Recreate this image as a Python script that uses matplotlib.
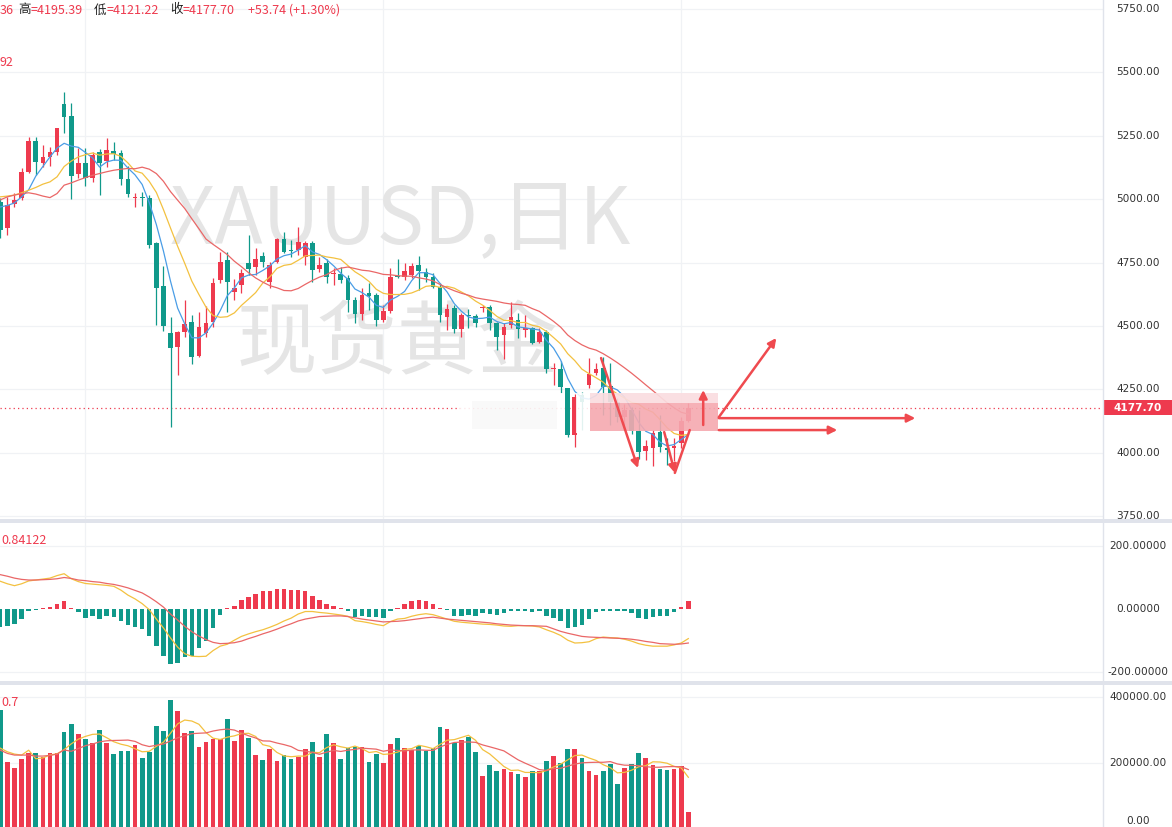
import matplotlib
matplotlib.use("Agg")
import matplotlib.pyplot as plt
import matplotlib.transforms as mtrans
from matplotlib.patches import Rectangle
import numpy as np
import pandas as pd

plt.rcParams["font.family"] = ["DejaVu Sans", "Noto Sans CJK SC"]

# ---- values: XAUUSD daily, 98 sessions ----
opens = [4988, 4885, 4980, 5004, 5106, 5229, 5142, 5166, 5185, 5375,
         5328, 5099, 5142, 5083, 5185, 5150, 5189, 5182, 5079, 5004,
         5008, 5004, 4826, 4656, 4471, 4416, 4475, 4514, 4380, 4471,
         4514, 4680, 4759, 4633, 4660, 4747, 4731, 4775, 4672, 4751,
         4842, 4798, 4798, 4771, 4826, 4723, 4747, 4704, 4704, 4688,
         4601, 4546, 4629, 4621, 4522, 4558, 4696, 4692, 4700, 4739,
         4711, 4692, 4652, 4534, 4570, 4487, 4542, 4538, 4569, 4573,
         4510, 4463, 4503, 4522, 4483, 4491, 4435, 4475, 4329, 4329,
         4254, 4070, 4226, 4266, 4313, 4333, 4262, 4200, 4140, 4170,
         4085, 4005, 4017, 4080, 4017, 4017, 4036, 4124.36]
highs = [5004, 5008, 5024, 5122, 5245, 5245, 5213, 5205, 5280, 5422,
         5379, 5201, 5201, 5185, 5197, 5241, 5225, 5193, 5130, 5024,
         5028, 5016, 4830, 4735, 4534, 4480, 4601, 4542, 4554, 4577,
         4688, 4790, 4790, 4684, 4723, 4858, 4806, 4790, 4751, 4846,
         4870, 4838, 4889, 4834, 4834, 4771, 4763, 4727, 4731, 4700,
         4613, 4649, 4668, 4629, 4581, 4727, 4763, 4747, 4747, 4775,
         4727, 4708, 4668, 4585, 4581, 4550, 4566, 4546, 4581, 4581,
         4514, 4510, 4593, 4550, 4542, 4495, 4491, 4483, 4352, 4360,
         4254, 4230, 4240, 4372, 4352, 4376, 4352, 4215, 4190, 4180,
         4170, 4048, 4090, 4150, 4056, 4056, 4140, 4195.39]
lows = [4846, 4858, 4968, 4996, 5102, 5095, 5126, 5130, 5174, 5260,
        4999, 5083, 5051, 5067, 5016, 5126, 5154, 5055, 5008, 4968,
        4972, 4806, 4502, 4479, 4100, 4305, 4455, 4348, 4376, 4455,
        4494, 4668, 4553, 4601, 4629, 4700, 4700, 4731, 4648, 4747,
        4786, 4771, 4779, 4739, 4672, 4711, 4668, 4660, 4668, 4553,
        4510, 4522, 4562, 4499, 4514, 4550, 4688, 4680, 4688, 4641,
        4672, 4648, 4514, 4483, 4471, 4455, 4491, 4495, 4554, 4483,
        4404, 4368, 4491, 4451, 4455, 4428, 4432, 4313, 4266, 4234,
        4060, 4021, 4088, 4254, 4305, 4150, 4110, 4120, 4110, 4075,
        3975, 3969, 3946, 4001, 3950, 3965, 4020, 4121.22]
closes = [4878, 4976, 4996, 5106, 5229, 5146, 5166, 5185, 5280, 5324,
          5091, 5142, 5083, 5174, 5142, 5193, 5178, 5079, 5020, 5008,
          5004, 4818, 4648, 4498, 4412, 4475, 4506, 4376, 4494, 4510,
          4668, 4751, 4672, 4648, 4708, 4723, 4763, 4751, 4739, 4842,
          4790, 4794, 4830, 4826, 4719, 4739, 4692, 4708, 4680, 4601,
          4546, 4621, 4617, 4522, 4558, 4692, 4692, 4715, 4735, 4715,
          4692, 4652, 4542, 4566, 4487, 4542, 4538, 4510, 4573, 4510,
          4455, 4494, 4534, 4487, 4491, 4432, 4475, 4329, 4333, 4258,
          4068, 4220, 4200, 4309, 4329, 4258, 4200, 4140, 4170, 4085,
          4001, 4025, 4076, 4021, 4009, 4028, 4123.96, 4177.70]
volumes_k = [361, 204, 186, 212, 231, 231, 217, 231, 229, 295,
             318, 288, 273, 260, 300, 262, 227, 236, 236, 255,
             216, 234, 312, 298, 391, 358, 292, 297, 249, 265,
             273, 272, 333, 268, 300, 277, 224, 209, 243, 207,
             224, 212, 219, 242, 265, 219, 288, 262, 212, 245,
             249, 249, 204, 227, 201, 258, 275, 245, 239, 251,
             237, 245, 310, 302, 260, 270, 278, 234, 161, 194,
             177, 181, 174, 167, 158, 177, 177, 207, 221, 201,
             242, 242, 214, 177, 164, 177, 197, 136, 184, 197,
             229, 214, 194, 181, 179, 181, 191, 52]
dif = [88, 80, 74, 80, 89, 92, 95, 98, 106, 112,
       96, 87, 81, 79, 77, 75, 72, 60, 44, 32,
       17, -2, -32, -60, -92, -121, -142, -150, -151, -150,
       -132, -118, -112, -99, -87, -79, -72, -66, -58, -49,
       -38, -29, -16, -8, -8, -11, -13, -16, -19, -23,
       -37, -40, -44, -49, -53, -40, -32, -30, -23, -18,
       -15, -18, -25, -32, -39, -42, -44, -46, -48, -49,
       -51, -54, -55, -53, -53, -54, -57, -66, -74, -84,
       -99, -108, -107, -104, -94, -89, -91, -92, -96, -102,
       -110, -115, -118, -118, -118, -114, -108, -94]
dea = [109, 104, 98, 94, 92, 92, 93, 94, 96, 100,
       97, 92, 90, 87, 85, 81, 78, 73, 67, 59,
       51, 38, 23, 6, -16, -35, -55, -72, -86, -97,
       -106, -110, -109, -107, -102, -94, -87, -79, -72, -64,
       -55, -47, -38, -32, -28, -24, -23, -22, -22, -24,
       -28, -32, -35, -38, -41, -40, -39, -37, -34, -31,
       -28, -26, -29, -32, -34, -36, -38, -40, -42, -44,
       -47, -49, -51, -52, -53, -53, -54, -55, -63, -71,
       -77, -82, -87, -89, -90, -91, -92, -93, -94, -96,
       -99, -103, -106, -110, -111, -112, -111, -108]
macd_hist = [-57, -55, -47, -32, -5, -3, 1, 6, 16, 24,
             1, -11, -29, -21, -32, -23, -27, -37, -51, -58,
             -63, -87, -116, -148, -175, -171, -153, -148, -125, -101,
             -60, -18, 1, 11, 28, 37, 49, 56, 56, 65,
             65, 61, 61, 58, 40, 30, 17, 8, 1, -5,
             -24, -23, -24, -26, -29, -5, 1, 16, 26, 30,
             25, 17, 1, -3, -21, -21, -18, -21, -14, -15,
             -18, -14, -5, -5, -5, -8, -7, -21, -29, -37,
             -61, -58, -51, -31, -10, -7, -7, -7, -7, -14,
             -29, -32, -24, -21, -21, -11, 6, 24]

# moving-average values at the left edge, before a full window is on screen
ma5_head = [4969, 4975, 4985, 5009]
ma10_head = [5009, 5012, 5016, 5025, 5035, 5046, 5059, 5068, 5088]
ma20_head = [4997, 5009, 5016, 5022, 5025, 5020, 5012, 5006, 5022, 5055,
             5064, 5075, 5085, 5094, 5101, 5108, 5114, 5118, 5121]
vma5_head = [245, 234, 227, 224]
vma10_head = [239, 229, 224, 224, 224, 221, 221, 223, 227]

price_ticks = [5750, 5500, 5250, 5000, 4750, 4500, 4250, 4000, 3750]
macd_ticks = [200, 0, -200]
vol_ticks = [400000, 200000, 0]
vgrid_idx = [12, 54, 96]
last_close = 4177.70

# hand-drawn red arrows (session index, price)
arrows = [(84.7, 4373, 89.9, 3939),
          (93.6, 4081, 95.1, 3920),
          (99.1, 4109, 99.1, 4247),
          (101.3, 4140, 109.4, 4452),
          (101.3, 4136, 129.0, 4136),
          (101.3, 4089, 118.0, 4089)]
arrow_tail = [(95.1, 3920), (97.2, 4089)]

UP = "#ee3a4e"
DOWN = "#10998a"
GRID = "#f0f2f5"
SEP = "#e0e3eb"
TXT = "#333333"
MA_BLUE = "#4a9de6"
MA_YEL = "#f3c140"
MA_RED = "#ea6767"
ARROW = "#ef4a4f"

W, H = 1172, 827
PX = 7.093   # pixels per session
X0 = 0.3     # pixel of first session
RIGHT = 1103


def moving_avg(values, n, head):
    s = pd.Series(values, dtype=float).rolling(n).mean()
    s.iloc[:len(head)] = head
    return s


fig = plt.figure(figsize=(W / 100, H / 100), dpi=100)
fig.patch.set_facecolor("white")


def panel(top, bottom, ylim):
    ax = fig.add_axes([0, 1 - bottom / H, RIGHT / W, (bottom - top) / H])
    ax.set_xlim(-X0 / PX, (RIGHT - X0) / PX)
    ax.set_ylim(*ylim)
    for s in ax.spines.values():
        s.set_visible(False)
    ax.tick_params(left=False, bottom=False, labelleft=False, labelbottom=False)
    for i in vgrid_idx:
        ax.axvline(i, color=GRID, lw=0.9, zorder=0.2)
    return ax


ax_p = panel(0, 519, (3750 - 3 * 3.9448, 5750 + 9 * 3.9448))
ax_m = panel(523, 681, (-228.6, 273.0))
ax_v = panel(685, 827, (6061, 436364))

idx = np.arange(len(closes))
o, h, l, c = (np.asarray(a, dtype=float) for a in (opens, highs, lows, closes))
cols = np.where(c >= o, UP, DOWN)

# ---- price panel ----
for p in price_ticks:
    ax_p.axhline(p, color=GRID, lw=0.9, zorder=0.2)

ax_p.text(400 / RIGHT, 1 - 221 / 519, "XAUUSD,日K", transform=ax_p.transAxes,
          ha="center", va="center", fontsize=57, color="#e5e5e5",
          family=["Noto Sans CJK SC"], zorder=0.5)
ax_p.text(398 / RIGHT, 1 - 345 / 519, "现货黄金", transform=ax_p.transAxes,
          ha="center", va="center", fontsize=58, color="#e5e5e5",
          family=["Noto Sans CJK SC"], zorder=0.5)

ax_p.vlines(idx, l, h, colors=cols, lw=0.9, zorder=2)
ax_p.bar(idx, np.maximum(np.abs(c - o), 3.5), bottom=np.minimum(o, c),
         width=0.66, color=cols, linewidth=0, zorder=2.1)

ax_p.plot(idx, moving_avg(closes, 5, ma5_head), color=MA_BLUE, lw=0.9, zorder=3)
ax_p.plot(idx, moving_avg(closes, 10, ma10_head), color=MA_YEL, lw=0.9, zorder=3)
ax_p.plot(idx, moving_avg(closes, 20, ma20_head), color=MA_RED, lw=0.9, zorder=3)

ax_p.axhline(last_close, color=UP, lw=0.9, ls=(0, (1, 2.5)), zorder=1.5)

# smeared overlay over the last sessions (session index, price)
for x0, x1 in ((64.8, 79.3), (81.2, 83.1)):
    ax_p.add_patch(Rectangle((x0, 4077), x1 - x0, 158, facecolor="white",
                             alpha=0.88, lw=0, zorder=6))
ax_p.add_patch(Rectangle((66.5, 4095), 12.0, 110, facecolor="#eeeeee",
                         alpha=0.3, lw=0, zorder=6.1))
ax_p.add_patch(Rectangle((83.1, 4195), 18.1, 40, facecolor="#fadde0",
                         alpha=0.92, lw=0, zorder=6))
ax_p.add_patch(Rectangle((83.1, 4084), 18.1, 111, facecolor="#f5a9b0",
                         alpha=0.9, lw=0, zorder=6))

for x0, y0, x1, y1 in arrows:
    ax_p.annotate("", xy=(x1, y1), xytext=(x0, y0), annotation_clip=False,
                  arrowprops=dict(arrowstyle="-|>", color=ARROW, lw=1.8,
                                  mutation_scale=12, shrinkA=0, shrinkB=0),
                  zorder=7)
ax_p.plot([p[0] for p in arrow_tail], [p[1] for p in arrow_tail],
          color=ARROW, lw=1.8, zorder=7, solid_capstyle="round")

# ---- MACD panel ----
for v in (200, -200):
    ax_m.axhline(v, color=GRID, lw=0.9, zorder=0.2)
hist = np.asarray(macd_hist, dtype=float)
hcols = np.where(hist > 0, UP, DOWN)
hvals = np.where(np.abs(hist) < 4, np.sign(hist + 0.1) * 4, hist)
ax_m.bar(idx, hvals, width=0.62, color=hcols, linewidth=0, zorder=2)
ax_m.plot(idx, dif, color=MA_YEL, lw=0.9, zorder=3)
ax_m.plot(idx, dea, color=MA_RED, lw=0.9, zorder=3)

# ---- volume panel ----
for v in (400000, 200000):
    ax_v.axhline(v, color=GRID, lw=0.9, zorder=0.2)
vol = np.asarray(volumes_k, dtype=float) * 1000
ax_v.bar(idx, vol, width=0.66, color=cols, linewidth=0, zorder=2)
ax_v.plot(idx, moving_avg(volumes_k, 5, vma5_head) * 1000, color=MA_YEL, lw=0.9, zorder=3)
ax_v.plot(idx, moving_avg(volumes_k, 10, vma10_head) * 1000, color=MA_RED, lw=0.9, zorder=3)

# ---- frame: separators and right scale ----
for top in (519, 681):
    fig.patches.append(Rectangle((0, 1 - (top + 4) / H), 1, 4 / H, transform=fig.transFigure,
                                 facecolor=SEP, lw=0, zorder=5))
fig.add_artist(plt.Line2D([RIGHT / W, RIGHT / W], [0, 1], transform=fig.transFigure,
                          color=SEP, lw=1.0))


def right_labels(ax, ticks, fmt):
    tr = mtrans.blended_transform_factory(fig.transFigure, ax.transData)
    for t in ticks:
        ax.text(1138 / W, t, fmt.format(t), transform=tr, ha="center",
                va="center", fontsize=7.6, color=TXT, clip_on=False)


right_labels(ax_p, price_ticks, "{:.2f}")
right_labels(ax_m, macd_ticks, "{:.5f}")
right_labels(ax_v, vol_ticks[:-1], "{:.2f}")
# the zero label of the volume scale sits on the bottom edge
fig.text(1138 / W, 1 / H, f"{vol_ticks[-1]:.2f}", ha="center", va="bottom",
         fontsize=7.6, color=TXT)

tr_p = mtrans.blended_transform_factory(fig.transFigure, ax_p.transData)
ax_p.add_patch(Rectangle((RIGHT / W, last_close - 28), (W - RIGHT) / W, 56, transform=tr_p,
                         facecolor=UP, lw=0, clip_on=False, zorder=8))
ax_p.text(1138 / W, last_close, f"{last_close:.2f}", transform=tr_p, ha="center",
          va="center", fontsize=7.6, color="white", fontweight="bold", clip_on=False, zorder=9)

# ---- header / legend remnants ----
HDR = dict(fontsize=9.0, family=["Noto Sans CJK SC", "DejaVu Sans"])
header = [(0, "36", UP), (18, "高", "#222222"), (31, "=4195.39", UP),
          (94, "低", "#222222"), (107, "=4121.22", UP),
          (170, "收", "#222222"), (183, "=4177.70", UP),
          (248, "+53.74 (+1.30%)", UP)]
for x, s, col in header:
    fig.text(x / W, 1 - 10 / H, s, ha="left", va="center", color=col, **HDR)
fig.text(0, 1 - 63 / H, "92", ha="left", va="center", color=UP, **HDR)
fig.text(1 / W, 1 - 540 / H, "0.84122", ha="left", va="center", color=UP, **HDR)
fig.text(1 / W, 1 - 702 / H, "0.7", ha="left", va="center", color=UP, **HDR)

fig.savefig("out.png", dpi=100)
